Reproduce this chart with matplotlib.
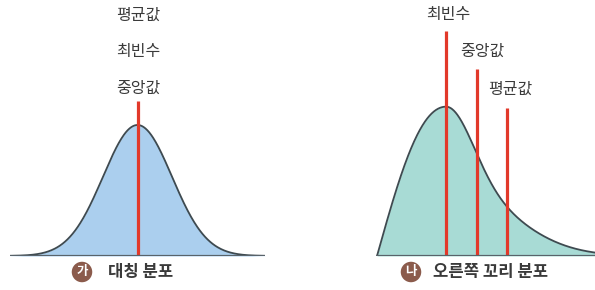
import numpy as np
import matplotlib.pyplot as plt

plt.rcParams['font.family'] = ['Noto Sans CJK KR', 'DejaVu Sans']

# (가) symmetric distribution, x in standard deviations
sym_mean = 0.0
sym_sd = 1.0
sym_peak = 1.0
sym_line_top = 1.18
sym_labels = ['평균값', '최빈수', '중앙값']
sym_label_y = [1.84, 1.56, 1.28]

# (나) right-tailed distribution, x in arbitrary units
skew_mode = 6.9
skew_peak = 1.14
skew_core_sd = 2.6
skew_tail_sd = 6.0
skew_tail_share = 0.5
skew_labels = ['최빈수', '중앙값', '평균값']
skew_marks = [6.9, 10.0, 13.0]
skew_mark_top = [1.72, 1.43, 1.13]
skew_label_x = [7.1, 10.5, 13.3]
skew_label_y = [1.84, 1.56, 1.27]

captions = ['대칭 분포', '오른쪽 꼬리 분포']
badges = ['가', '나']

RED = '#e2392a'
EDGE = '#3e4a50'
BASE = '#59636a'
TEXT = '#3a3a3a'
BADGE = '#8b5b4c'

W, H = 595, 290
fig = plt.figure(figsize=(W / 100, H / 100), dpi=100)

def px_axes(x0, x1):
    # axes spanning x0..x1 px, from baseline (y=256 px) to the top
    return fig.add_axes([x0 / W, (H - 256) / H, (x1 - x0) / W, 256 / H])

ymax = 256 / 131

# ---- left panel
ax1 = px_axes(10, 265)
x = np.linspace(-3.7, 3.7, 400)
y = sym_peak * np.exp(-0.5 * ((x - sym_mean) / sym_sd) ** 2)
ax1.fill_between(x, 0, y, color='#abcfee', lw=0)
ax1.vlines(sym_mean, 0, sym_line_top, color=RED, lw=2.3, zorder=3)
ax1.plot(x, y, color=EDGE, lw=1.3, zorder=2)
ax1.axhline(0, color=BASE, lw=1.6, zorder=4)
for lab, ly in zip(sym_labels, sym_label_y):
    ax1.text(sym_mean + 0.03, ly, lab, ha='center', va='center',
             fontsize=11.5, color=TEXT, clip_on=False)
ax1.set_xlim(-3.7, 3.7)
ax1.set_ylim(0, ymax)
ax1.axis('off')

# ---- right panel
ax2 = px_axes(376, 595)
t = np.linspace(0, 21.8, 500)
left = (t / skew_mode) * np.exp((skew_mode ** 2 - t ** 2) / (2 * skew_mode ** 2))
d = t - skew_mode
right = ((1 - skew_tail_share) * np.exp(-d ** 2 / (2 * skew_core_sd ** 2))
         + skew_tail_share * np.exp(-d ** 2 / (2 * skew_tail_sd ** 2)))
ys = skew_peak * np.where(t <= skew_mode, left, right)
ax2.fill_between(t, 0, ys, color='#a8dbd5', lw=0)
ax2.vlines(skew_marks, 0, skew_mark_top, color=RED, lw=2.3, zorder=3)
ax2.plot(t, ys, color=EDGE, lw=1.3, zorder=2)
ax2.axhline(0, color=BASE, lw=1.6, zorder=4)
for lab, lx, ly in zip(skew_labels, skew_label_x, skew_label_y):
    ax2.text(lx, ly, lab, ha='center', va='center',
             fontsize=11.5, color=TEXT, clip_on=False)
ax2.set_xlim(-0.1, 21.8)
ax2.set_ylim(0, ymax)
ax2.axis('off')

# ---- captions with round badges
for (bx, tx), badge, cap in zip([(82, 108), (411, 433)], badges, captions):
    fig.text(bx / W, 1 - 272 / H, badge, ha='center', va='center',
             fontsize=9, fontweight='bold', color='white',
             bbox=dict(boxstyle='circle,pad=0.3', fc=BADGE, ec='none'))
    fig.text(tx / W, 1 - 272 / H, cap, ha='left', va='center',
             fontsize=12, fontweight='bold', color=TEXT)

fig.savefig('out.png', dpi=100)
